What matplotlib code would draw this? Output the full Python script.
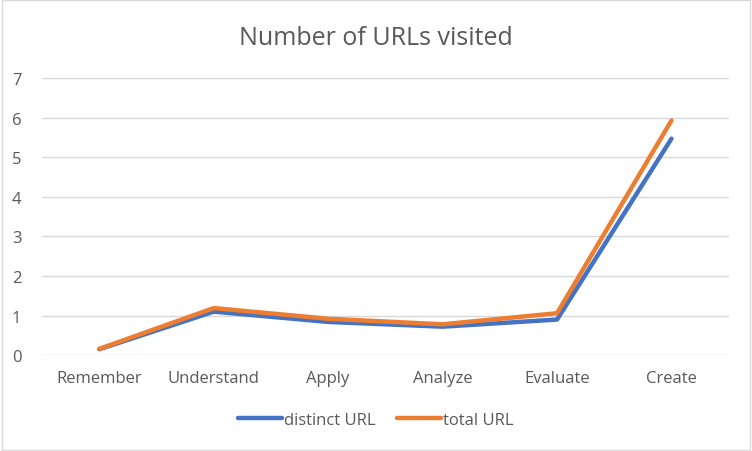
import matplotlib.pyplot as plt
import numpy as np

plt.rcParams['font.family'] = ['Open Sans', 'DejaVu Sans']

categories = ['Remember', 'Understand', 'Apply', 'Analyze', 'Evaluate', 'Create']
distinct_url = [0.15, 1.10, 0.84, 0.72, 0.90, 5.47]
total_url = [0.16, 1.19, 0.92, 0.78, 1.06, 5.93]

text_col = '#595959'

fig = plt.figure(figsize=(7.52, 4.52), dpi=100)
ax = fig.add_axes([0.056, 0.212, 0.913, 0.613])

x = np.arange(len(categories))
ax.plot(x, distinct_url, color='#4472C4', lw=3.2, solid_capstyle='round', label='distinct URL')
ax.plot(x, total_url, color='#ED7D31', lw=3.2, solid_capstyle='round', label='total URL')

ax.set_xlim(-0.5, len(categories) - 0.5)
ax.set_ylim(0, 7)
ax.set_yticks(range(0, 8))
ax.set_xticks(x)
ax.set_xticklabels(categories)
ax.grid(axis='y', color='#d9d9d9', lw=1)
ax.set_axisbelow(True)
for s in ax.spines.values():
    s.set_visible(False)
ax.tick_params(length=0, colors=text_col, labelsize=12)
ax.tick_params(axis='x', pad=11)
ax.tick_params(axis='y', pad=15)

fig.text(0.5, 0.915, 'Number of URLs visited', ha='center', va='center',
         fontsize=18, color=text_col)

leg = fig.legend(loc='center', bbox_to_anchor=(0.5, 0.068), ncol=2, frameon=False,
                 fontsize=12, handlelength=2.6, handletextpad=0.15, columnspacing=1.3)
for t in leg.get_texts():
    t.set_color(text_col)

fig.patches.append(plt.Rectangle((0.002, 0.003), 0.995, 0.994, transform=fig.transFigure,
                                 fill=False, edgecolor='#d9d9d9', lw=1))

fig.savefig('out.png', dpi=100)
